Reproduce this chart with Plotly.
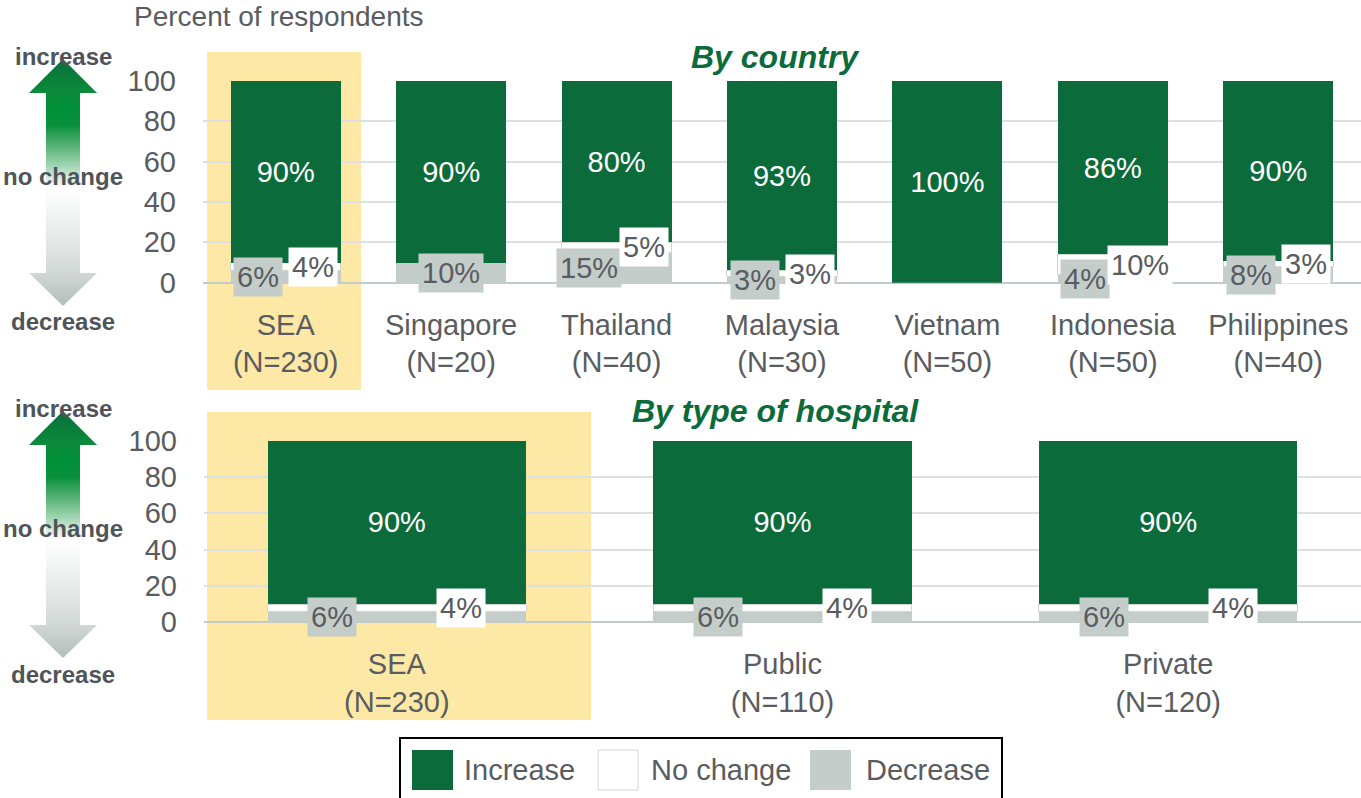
import base64
import plotly.graph_objects as go

W, H = 1361, 798

# ---------------- data ----------------
country_labels = ["SEA<br>(N=230)", "Singapore<br>(N=20)", "Thailand<br>(N=40)",
                  "Malaysia<br>(N=30)", "Vietnam<br>(N=50)", "Indonesia<br>(N=50)",
                  "Philippines<br>(N=40)"]
country_increase = [90, 90, 80, 93, 100, 86, 90]
country_nochange = [4, 0, 5, 3, 0, 10, 3]
country_decrease = [6, 10, 15, 3, 0, 4, 8]

hosp_labels = ["SEA<br>(N=230)", "Public<br>(N=110)", "Private<br>(N=120)"]
hosp_increase = [90, 90, 90]
hosp_nochange = [4, 4, 4]
hosp_decrease = [6, 6, 6]

y_ticks = [0, 20, 40, 60, 80, 100]

# ---------------- style ----------------
GREEN = "#0B6B3B"
GRAY = "#C5CDCA"
NC_LINE = "#CFD6D3"
TXT = "#595C60"
YELLOW = "#FEE8A6"
GRID = "#DCE1DF"
FONT = "Liberation Sans, Arial, sans-serif"
FS = 29


def px(x):
    return x / W


def py(y):
    return 1 - y / H


fig = go.Figure()

panels = [
    dict(xa="x", ya="y", labels=country_labels, inc=country_increase,
         nc=country_nochange, dec=country_decrease, width=0.665,
         xdom=[203, 1361], ytop=80.7, ybot=282.7),
    dict(xa="x2", ya="y2", labels=hosp_labels, inc=hosp_increase,
         nc=hosp_nochange, dec=hosp_decrease, width=0.67,
         xdom=[204, 1361], ytop=440.7, ybot=622.3),
]

annotations = []
for k, p in enumerate(panels):
    n = len(p["labels"])
    idx = list(range(n))
    totals = [a + b + c for a, b, c in zip(p["inc"], p["nc"], p["dec"])]
    fig.add_trace(go.Bar(x=idx, y=p["dec"], name="Decrease", marker_color=GRAY,
                         marker_line_width=0, width=p["width"], xaxis=p["xa"], yaxis=p["ya"],
                         showlegend=False, hoverinfo="skip"))
    fig.add_trace(go.Bar(x=idx, y=p["nc"], name="No change", marker_color="white",
                         marker_line_color=NC_LINE,
                         marker_line_width=[1 if v > 0 else 0 for v in p["nc"]],
                         width=p["width"], xaxis=p["xa"], yaxis=p["ya"],
                         showlegend=False, hoverinfo="skip"))
    fig.add_trace(go.Bar(x=idx, y=p["inc"], name="Increase", marker_color=GREEN,
                         marker_line_width=0, width=p["width"], xaxis=p["xa"], yaxis=p["ya"],
                         text=[f"{v}%" for v in p["inc"]], textposition="inside",
                         insidetextanchor="middle", textangle=0,
                         textfont=dict(color="white", size=FS, family=FONT),
                         showlegend=False, hoverinfo="skip"))
    # boxed labels for decrease / no change
    for i in idx:
        t = totals[i]
        d = p["dec"][i] * 100 / t
        c = p["nc"][i] * 100 / t
        w = p["width"]
        if p["dec"][i] > 0:
            xd = i - w / 4 if p["nc"][i] > 0 else i
            annotations.append(dict(x=xd, y=d / 2, xref=p["xa"], yref=p["ya"],
                                    text=f"{p['dec'][i]}%", showarrow=False,
                                    bgcolor=GRAY, borderpad=3,
                                    font=dict(size=FS, color=TXT, family=FONT)))
        if p["nc"][i] > 0:
            annotations.append(dict(x=i + w / 4, y=d + c / 2, xref=p["xa"], yref=p["ya"],
                                    text=f"{p['nc'][i]}%", showarrow=False,
                                    bgcolor="white", borderpad=3,
                                    font=dict(size=FS, color=TXT, family=FONT)))

    xaxis = dict(domain=[px(p["xdom"][0]), px(p["xdom"][1])], range=[-0.5, n - 0.5],
                 tickvals=idx, ticktext=p["labels"], showgrid=False, zeroline=False,
                 showline=False, ticks="", ticklabelstandoff=22,
                 tickfont=dict(size=FS, color=TXT, family=FONT), anchor=p["ya"],
                 fixedrange=True)
    yaxis = dict(domain=[py(p["ybot"]), py(p["ytop"])], range=[0, 100],
                 tickvals=y_ticks, showgrid=True, gridcolor=GRID, gridwidth=2,
                 zeroline=True, zerolinecolor="#C3CBC8", zerolinewidth=2,
                 showline=False, ticks="", ticklabelstandoff=26,
                 tickfont=dict(size=FS, color=TXT, family=FONT), anchor=p["xa"],
                 fixedrange=True)
    if k == 0:
        fig.update_layout(xaxis=xaxis, yaxis=yaxis)
    else:
        fig.update_layout(xaxis2=xaxis, yaxis2=yaxis)

shapes = [
    # highlight boxes
    dict(type="rect", xref="paper", yref="paper", x0=px(207), x1=px(361), y0=py(390), y1=py(52),
         fillcolor=YELLOW, line_width=0, layer="below"),
    dict(type="rect", xref="paper", yref="paper", x0=px(207), x1=px(591), y0=py(720), y1=py(412),
         fillcolor=YELLOW, line_width=0, layer="below"),
    # legend
    dict(type="rect", xref="paper", yref="paper", x0=px(400), x1=px(1002), y0=py(801), y1=py(738),
         fillcolor="white", line=dict(color="black", width=2), layer="above"),
    dict(type="rect", xref="paper", yref="paper", x0=px(412), x1=px(453), y0=py(790), y1=py(750),
         fillcolor=GREEN, line_width=0, layer="above"),
    dict(type="rect", xref="paper", yref="paper", x0=px(598), x1=px(638), y0=py(790), y1=py(750),
         fillcolor="white", line=dict(color=NC_LINE, width=1), layer="above"),
    dict(type="rect", xref="paper", yref="paper", x0=px(810), x1=px(851), y0=py(790), y1=py(750),
         fillcolor=GRAY, line_width=0, layer="above"),
]

for txt, x in [("Increase", 462), ("No change", 649), ("Decrease", 864)]:
    annotations.append(dict(x=px(x), y=py(770), xref="paper", yref="paper", text=txt,
                            xanchor="left", yanchor="middle", showarrow=False,
                            font=dict(size=FS, color=TXT, family=FONT)))

annotations.append(dict(x=px(132), y=py(17), xref="paper", yref="paper",
                        text="Percent of respondents", xanchor="left", yanchor="middle",
                        showarrow=False, font=dict(size=28, color=TXT, family=FONT)))
for txt, y in [("By country", 57), ("By type of hospital", 411)]:
    annotations.append(dict(x=px(775), y=py(y), xref="paper", yref="paper",
                            text=f"<b><i>{txt}</i></b>", xanchor="center", yanchor="middle",
                            showarrow=False, font=dict(size=32, color=GREEN, family=FONT)))

# arrow labels
for off in [0, 352]:
    for txt, y in [("increase", 56), ("no change", 176), ("decrease", 322)]:
        annotations.append(dict(x=px(63), y=py(y + off), xref="paper", yref="paper",
                                text=f"<b>{txt}</b>", xanchor="center", yanchor="middle",
                                showarrow=False, font=dict(size=24, color="#4F5459", family=FONT)))

# gradient arrow (decorative) as inline SVG image
svg = """<svg xmlns='http://www.w3.org/2000/svg' width='68' height='247' viewBox='0 0 68 247' preserveAspectRatio='none'>
<defs><linearGradient id='g' x1='0' y1='0' x2='0' y2='1'>
<stop offset='0' stop-color='#0A6E3A'/>
<stop offset='0.13' stop-color='#0B8A3C'/>
<stop offset='0.2' stop-color='#009039'/>
<stop offset='0.27' stop-color='#0B903C'/>
<stop offset='0.43' stop-color='#9ED4B0'/>
<stop offset='0.52' stop-color='#FFFFFF'/>
<stop offset='0.6' stop-color='#F6F7F7'/>
<stop offset='0.86' stop-color='#D3D9D7'/>
<stop offset='1' stop-color='#B3BDBA'/>
</linearGradient></defs>
<path d='M34 0 L68 34 L51 34 L51 214 L68 214 L34 247 L0 214 L17 214 L17 34 L0 34 Z' fill='url(#g)'/>
</svg>"""
src = "data:image/svg+xml;base64," + base64.b64encode(svg.encode()).decode()
images = []
for top in [59, 411]:
    images.append(dict(source=src, xref="paper", yref="paper", x=px(29), y=py(top),
                       sizex=68 / W, sizey=247 / H, xanchor="left", yanchor="top",
                       sizing="stretch", layer="above"))

fig.update_layout(
    width=W, height=H, autosize=False,
    margin=dict(l=0, r=0, t=0, b=0, pad=0, autoexpand=False),
    barmode="stack", barnorm="percent",
    paper_bgcolor="white", plot_bgcolor="rgba(0,0,0,0)",
    showlegend=False,
    shapes=shapes, annotations=annotations, images=images,
    font=dict(family=FONT, color=TXT),
)

fig.write_html("out.html", config={"displayModeBar": False},
               post_script="document.body.style.margin='0';document.body.style.overflow='hidden';")
